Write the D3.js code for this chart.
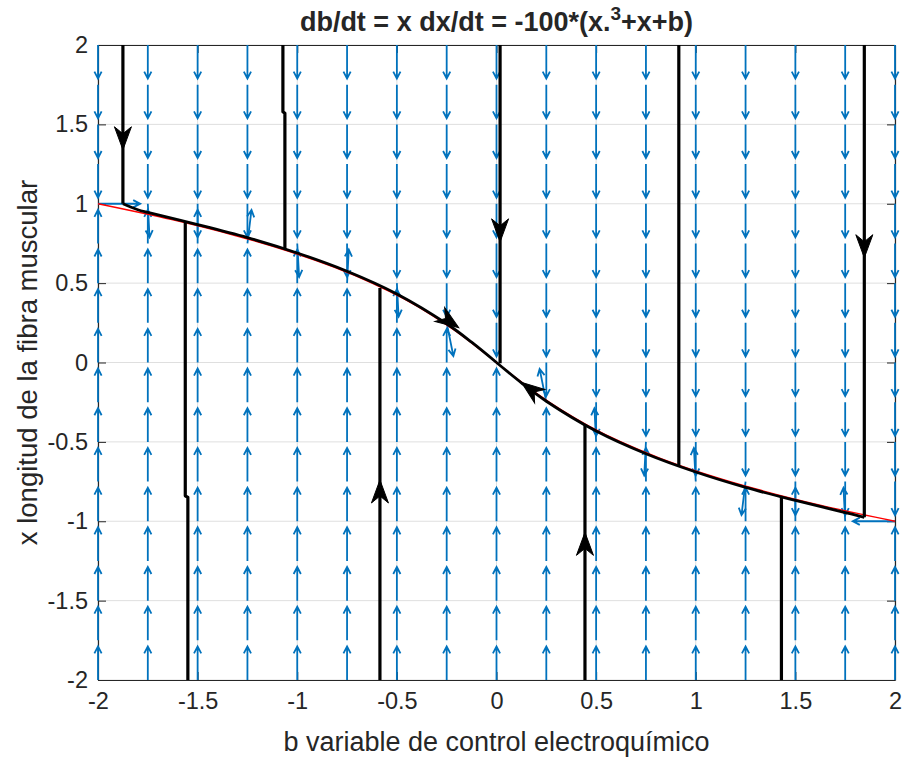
<!DOCTYPE html>
<html>
<head>
<meta charset="utf-8">
<script src="https://cdn.jsdelivr.net/npm/d3@7"></script>
<style>
  html, body { margin: 0; padding: 0; background: #ffffff; }
  svg { display: block; }
  text { font-family: "Liberation Sans", Arial, Helvetica, sans-serif; fill: #262626; }
</style>
</head>
<body>
<script>
// ---------------- data ----------------
const bDomain = [-2, 2];
const xDomain = [-2, 2];
const tickValues = [-2, -1.5, -1, -0.5, 0, 0.5, 1, 1.5, 2];
const tickLabels = ["-2", "-1.5", "-1", "-0.5", "0", "0.5", "1", "1.5", "2"];

const titleMain = "db/dt = x dx/dt = -100*(x.";
const titleSup = "3";
const titleTail = "+x+b)";
const xLabel = "b variable de control electroquímico";
const yLabel = "x longitud de la fibra muscular";

// quiver grid (columns = b, rows = x from top to bottom)
const fieldB = [-2, -1.75, -1.5, -1.25, -1, -0.75, -0.5, -0.25, 0, 0.25, 0.5, 0.75, 1, 1.25, 1.5, 1.75, 2];
const fieldX = [2, 1.75, 1.5, 1.25, 1, 0.75, 0.5, 0.25, 0, -0.25, -0.5, -0.75, -1, -1.25, -1.5, -1.75, -2];
// v = down, ^ = up, > = right, < = left, . = no arrow
const fieldRows = [
  "vvvvvvvvvvvvvvvvv",
  "vvvvvvvvvvvvvvvvv",
  "vvvvvvvvvvvvvvvvv",
  "vvvvvvvvvvvvvvvvv",
  ">vvvvvvvvvvvvvvvv",
  "^^^^vvvvvvvvvvvvv",
  "^^^^^^vvvvvvvvvvv",
  "^^^^^^^vvvvvvvvvv",
  "^^^^^^^^.vvvvvvvv",
  "^^^^^^^^^^vvvvvvv",
  "^^^^^^^^^^^vvvvvv",
  "^^^^^^^^^^^^^vvvv",
  "^^^^^^^^^^^^^^^^<",
  "^^^^^^^^^^^^^^^^^",
  "^^^^^^^^^^^^^^^^^",
  "^^^^^^^^^^^^^^^^^",
  "^^^^^^^^^^^^^^^^^"
];
// small horizontal components (fraction of unit arrow) near the nullcline: [b, x, tilt]
const fieldTilts = [
  [-1.75, 1, 0.04], [-1.25, 0.75, 0.096], [-1, 0.75, 0.044], [-0.75, 0.5, 0.04],
  [-0.5, 0.5, 0.04], [-0.25, 0.25, 0.158], [0.25, -0.25, -0.158], [0.5, -0.5, -0.04],
  [0.75, -0.5, -0.04], [1, -0.75, -0.044], [1.25, -0.75, -0.096], [1.75, -1, -0.04]
];
const arrowLen = 0.2118; // quiver arrow length in data units

// red nullcline (b, x)
const nullB = [-2, -1.629, -1.312, -1.043, -0.816, -0.625, -0.464, -0.327, -0.208, -0.101, 0,
               0.101, 0.208, 0.327, 0.464, 0.625, 0.816, 1.043, 1.312, 1.629, 2];
const nullX = [1, 0.9, 0.8, 0.7, 0.6, 0.5, 0.4, 0.3, 0.2, 0.1, 0,
               -0.1, -0.2, -0.3, -0.4, -0.5, -0.6, -0.7, -0.8, -0.9, -1];

// black trajectories: fast vertical parts
const drops = [
  [[-1.875, 2], [-1.875, 1.0]],
  [[-1.549, -2], [-1.549, -0.85], [-1.562, -0.84], [-1.562, 0.885]],
  [[-1.072, 2], [-1.072, 1.58], [-1.062, 1.57], [-1.062, 0.715]],
  [[-0.585, -2], [-0.585, 0.47]],
  [[0.018, 2], [0.018, -0.005]],
  [[0.444, -2], [0.444, -0.39]],
  [[0.915, 2], [0.915, -0.655]],
  [[1.43, -2], [1.43, -0.845]],
  [[1.846, 2], [1.846, -0.975]]
];
// slow parts along the nullcline
const slowLeftB = [-1.875, -1.8, -1.75, -1.5, -1.25, -1, -0.75, -0.5, -0.25, -0.125, 0];
const slowLeftX = [1.0, 0.962, 0.945, 0.869, 0.787, 0.69, 0.575, 0.432, 0.244, 0.128, 0];
const slowRightB = [0, 0.125, 0.25, 0.5, 0.75, 1, 1.25, 1.5, 1.75, 1.846];
const slowRightX = [0, -0.128, -0.244, -0.432, -0.575, -0.69, -0.787, -0.869, -0.945, -0.975];

// arrowheads on trajectories: tip (b, x) and direction (db, dx)
const arrowB = [-1.875, -0.585, -0.19, 0.125, 0.018, 0.444, 1.846];
const arrowX = [1.34, -0.74, 0.22, -0.125, 0.76, -1.07, 0.66];
const arrowDB = [0, 0, 1, -1, 0, 0, 0];
const arrowDX = [-1, 1, -0.876, 0.952, -1, 1, -1];

// ---------------- drawing ----------------
const W = 904, H = 760;
const margin = { left: 98, right: 9, top: 45, bottom: 80 };
const svg = d3.select("body").append("svg").attr("width", W).attr("height", H);

const xs = d3.scaleLinear().domain(bDomain).range([margin.left, W - margin.right]);
const ys = d3.scaleLinear().domain(xDomain).range([H - margin.bottom, margin.top]);
const x0 = xs.range()[0], x1 = xs.range()[1], y0 = ys.range()[1], y1 = ys.range()[0];

// grid
const grid = svg.append("g");
grid.selectAll(".gx").data(tickValues).join("line")
  .attr("x1", d => xs(d)).attr("x2", d => xs(d)).attr("y1", y0).attr("y2", y1)
  .attr("stroke", "#dfdfdf").attr("stroke-width", 1);
grid.selectAll(".gy").data(tickValues).join("line")
  .attr("y1", d => ys(d)).attr("y2", d => ys(d)).attr("x1", x0).attr("x2", x1)
  .attr("stroke", "#dfdfdf").attr("stroke-width", 1);

// axes (ticks inward, mirrored)
const fmt = (d) => tickLabels[tickValues.indexOf(d)];
const tickLen = 8;
const axB = svg.append("g").attr("transform", `translate(0,${y1})`)
  .call(d3.axisBottom(xs).tickValues(tickValues).tickFormat(fmt).tickSizeInner(-tickLen).tickSizeOuter(0).tickPadding(12));
const axL = svg.append("g").attr("transform", `translate(${x0},0)`)
  .call(d3.axisLeft(ys).tickValues(tickValues).tickFormat(fmt).tickSizeInner(-tickLen).tickSizeOuter(0).tickPadding(10));
const axT = svg.append("g").attr("transform", `translate(0,${y0})`)
  .call(d3.axisTop(xs).tickValues(tickValues).tickFormat("").tickSizeInner(-tickLen).tickSizeOuter(0));
const axR = svg.append("g").attr("transform", `translate(${x1},0)`)
  .call(d3.axisRight(ys).tickValues(tickValues).tickFormat("").tickSizeInner(-tickLen).tickSizeOuter(0));
[axB, axL, axT, axR].forEach(a => {
  a.select(".domain").attr("stroke", "#262626").attr("stroke-width", 1.2);
  a.selectAll(".tick line").attr("stroke", "#262626").attr("stroke-width", 1);
  a.selectAll(".tick text").attr("font-size", 23.5).attr("fill", "#262626")
    .attr("font-family", "Liberation Sans, Arial, sans-serif");
});

// quiver field
const tiltOf = (b, x) => {
  const t = fieldTilts.find(e => e[0] === b && e[1] === x);
  return t ? t[2] : 0;
};
const quiverData = [];
fieldX.forEach((xv, i) => {
  fieldB.forEach((bv, j) => {
    const c = fieldRows[i][j];
    if (c === ".") return;
    const t = tiltOf(bv, xv);
    let u = 0, v = 0;
    if (c === "v") { u = t; v = -Math.sqrt(1 - t * t); }
    else if (c === "^") { u = t; v = Math.sqrt(1 - t * t); }
    else if (c === ">") { u = 1; v = 0; }
    else if (c === "<") { u = -1; v = 0; }
    quiverData.push({ b: bv, x: xv, u, v });
  });
});
const quiverPath = (d) => {
  const sx = xs(d.b), sy = ys(d.x);
  const ex = xs(d.b + d.u * arrowLen), ey = ys(d.x + d.v * arrowLen);
  const dx = ex - sx, dy = ey - sy, L = Math.hypot(dx, dy);
  const ux = dx / L, uy = dy / L;
  const hl = 7, hw = 3.6;
  const bx = ex - ux * hl, by = ey - uy * hl;
  return `M${sx},${sy}L${ex},${ey}` +
    `M${bx - uy * hw},${by + ux * hw}L${ex},${ey}L${bx + uy * hw},${by - ux * hw}`;
};
svg.append("g").selectAll("path").data(quiverData).join("path")
  .attr("d", quiverPath)
  .attr("fill", "none").attr("stroke", "#0072bd").attr("stroke-width", 1.8);

// red nullcline
const nullPts = nullB.map((b, i) => [b, nullX[i]]);
svg.append("path").datum(nullPts)
  .attr("d", d3.line().x(d => xs(d[0])).y(d => ys(d[1])).curve(d3.curveCatmullRom))
  .attr("fill", "none").attr("stroke", "#ff0000").attr("stroke-width", 1.3);

// black trajectories
const lineGen = d3.line().x(d => xs(d[0])).y(d => ys(d[1]));
const tg = svg.append("g");
tg.selectAll(".drop").data(drops).join("path")
  .attr("d", lineGen).attr("fill", "none").attr("stroke", "#000").attr("stroke-width", 3.2)
  .attr("stroke-linejoin", "round");
const slowL = slowLeftB.map((b, i) => [b, slowLeftX[i]]);
const slowR = slowRightB.map((b, i) => [b, slowRightX[i]]);
tg.selectAll(".slow").data([slowL, slowR]).join("path")
  .attr("d", d3.line().x(d => xs(d[0])).y(d => ys(d[1])).curve(d3.curveCatmullRom))
  .attr("fill", "none").attr("stroke", "#000").attr("stroke-width", 2.8)
  .attr("stroke-linejoin", "round");

// arrowheads on trajectories
const heads = arrowB.map((b, i) => ({ b, x: arrowX[i], db: arrowDB[i], dx: arrowDX[i] }));
tg.selectAll(".head").data(heads).join("path")
  .attr("d", "M0,0L-23,-8.5L-16,0L-23,8.5Z")
  .attr("transform", d => {
    const px = xs(d.b), py = ys(d.x);
    const vx = xs(d.b + d.db) - xs(d.b), vy = ys(d.x + d.dx) - ys(d.x);
    const ang = Math.atan2(vy, vx) * 180 / Math.PI;
    return `translate(${px},${py}) rotate(${ang})`;
  })
  .attr("fill", "#000").attr("stroke", "#000").attr("stroke-width", 1).attr("stroke-linejoin", "miter");

// title
const title = svg.append("text").attr("x", (x0 + x1) / 2).attr("y", 31)
  .attr("text-anchor", "middle").attr("font-size", 27).attr("font-weight", "bold");
title.append("tspan").text(titleMain);
title.append("tspan").attr("dy", -11).attr("font-size", 19).text(titleSup);
title.append("tspan").attr("dy", 11).text(titleTail);

// axis labels
svg.append("text").attr("x", (x0 + x1) / 2).attr("y", 751).attr("text-anchor", "middle")
  .attr("font-size", 27).text(xLabel);
svg.append("text").attr("transform", `translate(37,${(y0 + y1) / 2}) rotate(-90)`)
  .attr("text-anchor", "middle").attr("font-size", 27.5).text(yLabel);
</script>
</body>
</html>
